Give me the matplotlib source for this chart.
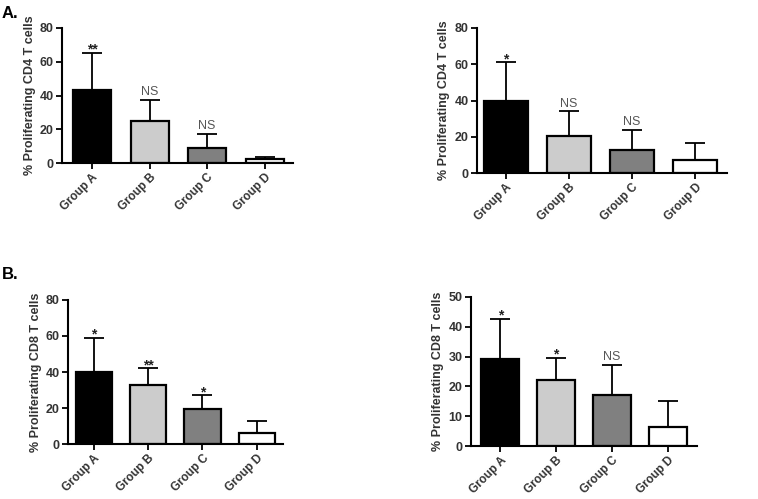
import matplotlib.pyplot as plt

plt.rcParams['font.family'] = ['Liberation Sans', 'DejaVu Sans']

groups = ["Group A", "Group B", "Group C", "Group D"]
bar_colors = ["#000000", "#cccccc", "#808080", "#ffffff"]

# top-left: CD4
cd4_left_mean = [43, 25, 9, 2.5]
cd4_left_err = [22, 12.5, 8.5, 1.2]
cd4_left_sig = ["**", "NS", "NS", ""]

# top-right: CD4
cd4_right_mean = [40, 20.5, 13, 7.5]
cd4_right_err = [21, 13.5, 11, 9]
cd4_right_sig = ["*", "NS", "NS", ""]

# bottom-left: CD8
cd8_left_mean = [40, 33, 19.5, 6]
cd8_left_err = [19, 9, 7.5, 7]
cd8_left_sig = ["*", "**", "*", ""]

# bottom-right: CD8
cd8_right_mean = [29.3, 22, 17, 6.5]
cd8_right_err = [13.4, 7.5, 10.2, 8.5]
cd8_right_sig = ["*", "*", "NS", ""]


def draw_panel(ax, means, errs, sigs, ylabel, ymax, ystep, xlim, width):
    x = range(len(groups))
    ax.bar(x, means, width=width, color=bar_colors, edgecolor="black",
           linewidth=1.6, zorder=2)
    ax.errorbar(x, means, yerr=[[0] * len(errs), errs], fmt="none",
                ecolor="black", elinewidth=1.3, capsize=7, capthick=1.3,
                zorder=1)
    for i, s in enumerate(sigs):
        if not s:
            continue
        top = means[i] + errs[i]
        if s == "NS":
            ax.text(i, top + ymax * 0.01, s, ha="center", va="bottom",
                    fontsize=9, color="#555555")
        else:
            ax.text(i, top - ymax * 0.025, s, ha="center", va="bottom",
                    fontsize=10, fontweight="bold", color="#222222")
    ax.set_ylim(0, ymax)
    ax.set_xlim(*xlim)
    ax.set_yticks(range(0, ymax + 1, ystep))
    ax.set_xticks(list(x))
    ax.set_xticklabels(groups, rotation=45, ha="right", rotation_mode="anchor",
                       fontsize=8.5, fontweight="bold", color="#333333")
    for lab in ax.get_yticklabels():
        lab.set_fontweight("bold")
        lab.set_fontsize(9)
        lab.set_color("#333333")
    ax.set_ylabel(ylabel, fontsize=9, fontweight="bold", color="#333333",
                  labelpad=3)
    ax.spines["top"].set_visible(False)
    ax.spines["right"].set_visible(False)
    ax.spines["left"].set_linewidth(1.5)
    ax.spines["bottom"].set_linewidth(1.5)
    ax.tick_params(axis="y", width=1.3, length=4, pad=2)
    ax.tick_params(axis="x", width=1.3, length=4, pad=2)


fig = plt.figure(figsize=(7.58, 4.99), dpi=100)

ax1 = fig.add_axes([0.082, 0.673, 0.305, 0.271])
draw_panel(ax1, cd4_left_mean, cd4_left_err, cd4_left_sig,
           "% Proliferating CD4 T cells", 80, 20, (-0.52, 3.5), 0.66)

ax2 = fig.add_axes([0.629, 0.653, 0.330, 0.291])
draw_panel(ax2, cd4_right_mean, cd4_right_err, cd4_right_sig,
           "% Proliferating CD4 T cells", 80, 20, (-0.46, 3.5), 0.7)

ax3 = fig.add_axes([0.090, 0.110, 0.284, 0.289])
draw_panel(ax3, cd8_left_mean, cd8_left_err, cd8_left_sig,
           "% Proliferating CD8 T cells", 80, 20, (-0.47, 3.49), 0.67)

ax4 = fig.add_axes([0.621, 0.106, 0.298, 0.299])
draw_panel(ax4, cd8_right_mean, cd8_right_err, cd8_right_sig,
           "% Proliferating CD8 T cells", 50, 10, (-0.53, 3.52), 0.68)

fig.text(0.002, 0.988, "A.", fontsize=12, fontweight="bold", va="top")
fig.text(0.002, 0.465, "B.", fontsize=12, fontweight="bold", va="top")

fig.savefig("out.png", dpi=100)
